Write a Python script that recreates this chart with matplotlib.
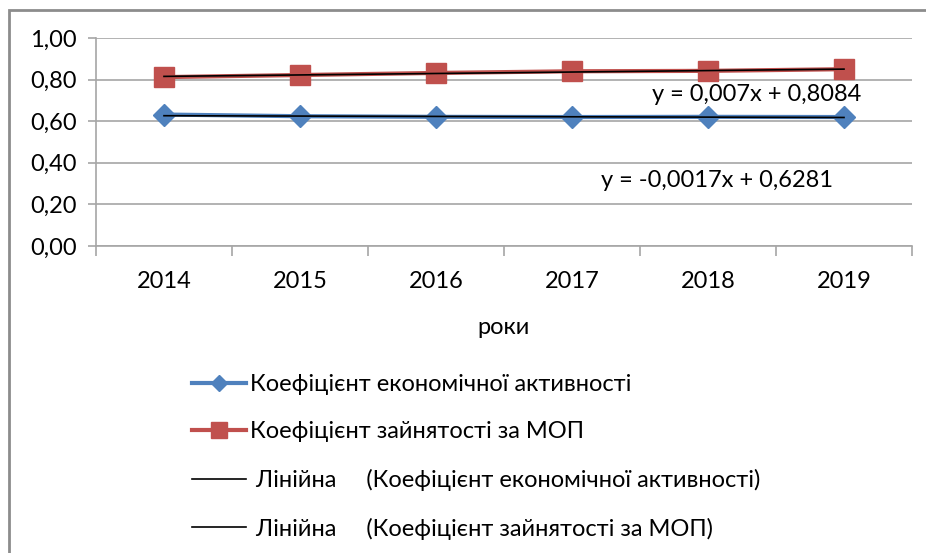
import matplotlib.pyplot as plt
from matplotlib.patches import Rectangle
import numpy as np

plt.rcParams['font.family'] = ['Lato', 'DejaVu Sans']

years = ["2014", "2015", "2016", "2017", "2018", "2019"]
econ_activity = [0.632, 0.624, 0.621, 0.620, 0.621, 0.620]
employment_ilo = [0.812, 0.822, 0.832, 0.840, 0.842, 0.850]

# trend lines as shown on the chart
trend_econ = (-0.0017, 0.6281)
trend_empl = (0.007, 0.8084)

lbl_econ = "Коефіцієнт економічної активності"
lbl_empl = "Коефіцієнт зайнятості за МОП"
lbl_trend_econ = " Лінійна     (Коефіцієнт економічної активності)"
lbl_trend_empl = " Лінійна     (Коефіцієнт зайнятості за МОП)"

blue = "#4F81BD"
red = "#C0504D"
grid_c = "#A6A6A6"
fs = 17

fig = plt.figure(figsize=(9.26, 5.53), dpi=100)
fig.patches.append(Rectangle((9 / 926, -0.1), 1.2, 1 - 10 / 553 + 0.1,
                             transform=fig.transFigure, fill=False,
                             edgecolor="#8C8C8C", linewidth=2))
ax = fig.add_axes([96 / 926, 1 - 246 / 553, 816 / 926, 208 / 553])

x = np.arange(1, len(years) + 1)
h1, = ax.plot(x, econ_activity, color=blue, lw=3, marker="D", ms=11,
              label=lbl_econ, zorder=3)
h2, = ax.plot(x, employment_ilo, color=red, lw=3, marker="s", ms=15,
              label=lbl_empl, zorder=3)
h3, = ax.plot(x, trend_econ[0] * x + trend_econ[1], color="black", lw=1.2,
              label=lbl_trend_econ, zorder=4)
h4, = ax.plot(x, trend_empl[0] * x + trend_empl[1], color="black", lw=1.2,
              label=lbl_trend_empl, zorder=4)

ax.text(6.13, 0.726, "y = 0,007x + 0,8084", ha="right", va="center", fontsize=fs)
ax.text(5.92, 0.317, "y = -0,0017x + 0,6281", ha="right", va="center", fontsize=fs)

ax.set_xlim(0.5, len(years) + 0.5)
ax.set_ylim(0, 1.0)
yt = np.arange(0, 1.01, 0.2)
ax.set_yticks(yt)
ax.set_yticklabels([f"{v:.2f}".replace(".", ",") for v in yt])
ax.yaxis.grid(True, color=grid_c, lw=1.2)
ax.set_axisbelow(True)

ax.set_xticks(np.arange(0.5, len(years) + 1, 1))
ax.set_xticklabels([])
ax.set_xticks(x, minor=True)
ax.set_xticklabels(years, minor=True)
ax.tick_params(axis="x", which="major", length=7, color=grid_c, width=1.2)
ax.tick_params(axis="x", which="minor", length=0, pad=18, labelsize=fs)
ax.tick_params(axis="y", length=6, color=grid_c, width=1.2, labelsize=fs, pad=8)

for s in ["top", "right"]:
    ax.spines[s].set_visible(False)
for s in ["left", "bottom"]:
    ax.spines[s].set_color(grid_c)
    ax.spines[s].set_linewidth(1.2)

ax.set_xlabel("роки", fontsize=fs, labelpad=18)

fig.legend(handles=[h1, h2, h3, h4], loc="upper left",
           bbox_to_anchor=(192 / 926, 1 - 374 / 553), frameon=False,
           fontsize=fs, handlelength=2.3, handletextpad=0.15,
           labelspacing=1.12, borderaxespad=0, borderpad=0, markerscale=0.75)

fig.savefig("out.png", dpi=100)
